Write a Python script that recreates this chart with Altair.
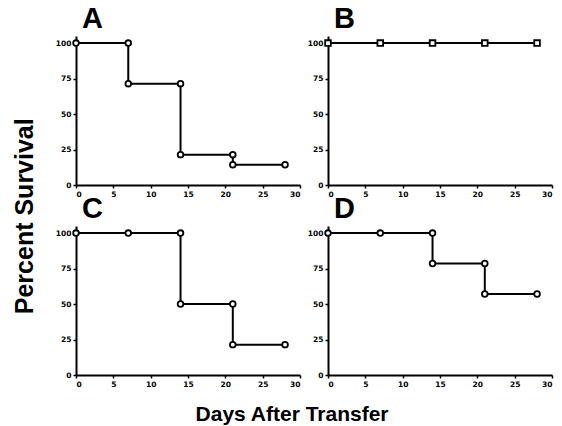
import altair as alt
import pandas as pd

# ---- data ----
a_days = [0, 7, 7, 14, 14, 21, 21, 28]
a_surv = [100, 100, 71.4, 71.4, 21.4, 21.4, 14.3, 14.3]
b_days = [0, 7, 14, 21, 28]
b_surv = [100, 100, 100, 100, 100]
c_days = [0, 7, 14, 14, 21, 21, 28]
c_surv = [100, 100, 100, 50, 50, 21.4, 21.4]
d_days = [0, 7, 14, 14, 21, 21, 28]
d_surv = [100, 100, 100, 78.6, 78.6, 57.1, 57.1]

x_ticks = [0, 5, 10, 15, 20, 25, 30]
y_ticks = [0, 25, 50, 75, 100]

FONT = "Liberation Sans"


def panel(label, days, surv, shape):
    df = pd.DataFrame({"day": days, "surv": surv, "i": list(range(len(days)))})
    base = alt.Chart(df).encode(
        x=alt.X("day:Q", scale=alt.Scale(domain=[0, 30], nice=False, zero=True),
                axis=alt.Axis(values=x_ticks, title=None)),
        y=alt.Y("surv:Q", scale=alt.Scale(domain=[0, 105], nice=False),
                axis=alt.Axis(values=y_ticks, title=None)),
        order=alt.Order("i:Q"),
    )
    line = base.mark_line(color="black", strokeWidth=2)
    pts = base.mark_point(shape=shape, filled=True, fill="white", stroke="black",
                          strokeWidth=1.8, size=32, opacity=1)
    return alt.layer(line, pts).properties(
        width=224, height=149,
        title=alt.TitleParams(label, anchor="start", frame="group", dx=6,
                              fontSize=29, font=FONT, fontWeight="bold",
                              color="black", offset=2),
    )


row1 = alt.hconcat(panel("A", a_days, a_surv, "circle"),
                   panel("B", b_days, b_surv, "square"), spacing=6)
row2 = alt.hconcat(panel("C", c_days, c_surv, "circle"),
                   panel("D", d_days, d_surv, "circle"), spacing=6)

inner = alt.vconcat(row1, row2, spacing=-3).properties(
    title=alt.TitleParams("Percent Survival", orient="left", anchor="middle",
                          fontSize=25, font=FONT, fontWeight="bold", color="black",
                          offset=17, dx=-20)
)

chart = alt.vconcat(inner).properties(
    title=alt.TitleParams("Days After Transfer", orient="bottom", anchor="middle",
                          fontSize=21, font=FONT, fontWeight="bold", color="black",
                          offset=16, dx=9),
    background="white",
    padding={"left": 13, "top": 5, "right": 5, "bottom": 5},
).configure_view(stroke=None).configure_axis(
    labelFont="DejaVu Sans", labelFontWeight="bold", labelFontSize=7.5,
    labelColor="black", domainColor="black", domainWidth=2,
    tickColor="black", tickSize=3, tickWidth=1.5, labelPadding=2, grid=False,
)

chart.save("out.html", embed_options={"renderer": "svg", "actions": False})
